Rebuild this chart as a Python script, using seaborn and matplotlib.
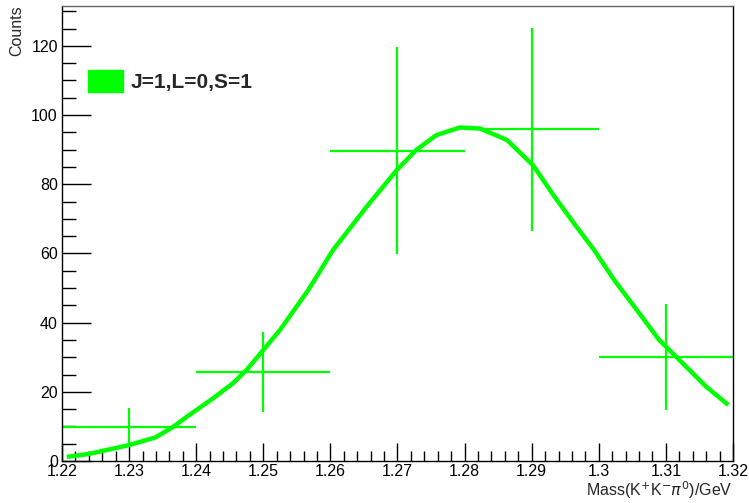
import numpy as np
import pandas as pd
import matplotlib
matplotlib.use("Agg")
import matplotlib.pyplot as plt
import matplotlib.ticker as mticker
from matplotlib.patches import Patch
import seaborn as sns

# histogram bins (centre, content, error)
bin_center = [1.23, 1.25, 1.27, 1.29, 1.31]
bin_count = [9.9, 25.8, 89.7, 95.9, 30.1]
bin_err = [5.3, 11.5, 30.0, 29.3, 15.4]
bin_half = 0.01

# fit curve
fit_mass = [1.2207, 1.2239, 1.2300, 1.2339, 1.2366, 1.2386, 1.2425, 1.2455,
            1.2475, 1.2500, 1.2525, 1.2567, 1.2604, 1.2654, 1.2699, 1.2728,
            1.2758, 1.2793, 1.2823, 1.2863, 1.2902, 1.2934, 1.2963, 1.2993,
            1.3023, 1.3053, 1.3090, 1.3130, 1.3160, 1.3193]
fit_val = [1.2, 2.0, 4.6, 6.8, 9.9, 12.8, 18.1, 22.5,
           26.3, 32.1, 37.9, 49.4, 61.0, 73.5, 84.1, 89.9,
           94.2, 96.4, 96.1, 92.8, 85.5, 76.4, 68.7, 61.0,
           52.3, 44.6, 35.0, 27.3, 21.5, 16.2]

green = "#00ff00"

sns.set_style("ticks")
plt.rcParams["font.family"] = ["Liberation Sans", "DejaVu Sans"]

fig = plt.figure(figsize=(7.49, 5.03), dpi=100)
ax = fig.add_axes([0.0828, 0.0835, 0.8958, 0.9045])

fit = pd.DataFrame({"mass": fit_mass, "counts": fit_val})
sns.lineplot(data=fit, x="mass", y="counts", ax=ax, color=green, lw=3.2,
             sort=False, solid_capstyle="butt")

ax.errorbar(bin_center, bin_count, xerr=bin_half, yerr=bin_err, fmt="none",
            ecolor=green, elinewidth=1.6, capsize=0)

ax.set_xlim(1.22, 1.32)
ax.set_ylim(0, 131.5)

ax.xaxis.set_major_locator(mticker.MultipleLocator(0.01))
ax.xaxis.set_minor_locator(mticker.MultipleLocator(0.002))
ax.xaxis.set_major_formatter(mticker.FuncFormatter(lambda v, p: "%g" % round(v, 3)))
ax.yaxis.set_major_locator(mticker.MultipleLocator(20))
ax.yaxis.set_minor_locator(mticker.MultipleLocator(5))

ax.tick_params(which="both", direction="in", top=False, right=False,
               labelsize=11.5, width=1, color="black", labelcolor="black")
ax.tick_params(axis="y", which="major", length=21, pad=3)
ax.tick_params(axis="y", which="minor", length=10)
ax.tick_params(axis="x", which="major", length=13, pad=2)
ax.tick_params(axis="x", which="minor", length=7)
for s in ax.spines.values():
    s.set_linewidth(1.0)
    s.set_color("black")
ax.spines["top"].set_color("#666666")

ax.set_xlabel("")
ax.set_ylabel("")
fig.text(0.0228, 0.99, "Counts", rotation=90, ha="center", va="top", fontsize=11.5)
fig.text(0.9786, 0.004, r"Mass(K$^{+}$K$^{-}\pi^{0}$)/GeV", ha="right", va="bottom",
         fontsize=11.5)

handle = Patch(facecolor=green, edgecolor=green, label="J=1,L=0,S=1")
leg = ax.legend(handles=[handle], loc="upper left", bbox_to_anchor=(0.0105, 0.90),
                frameon=False, prop={"weight": "bold", "size": 15},
                handlelength=1.7, handleheight=1.2, handletextpad=0.35)

fig.savefig("out.png", dpi=100)
